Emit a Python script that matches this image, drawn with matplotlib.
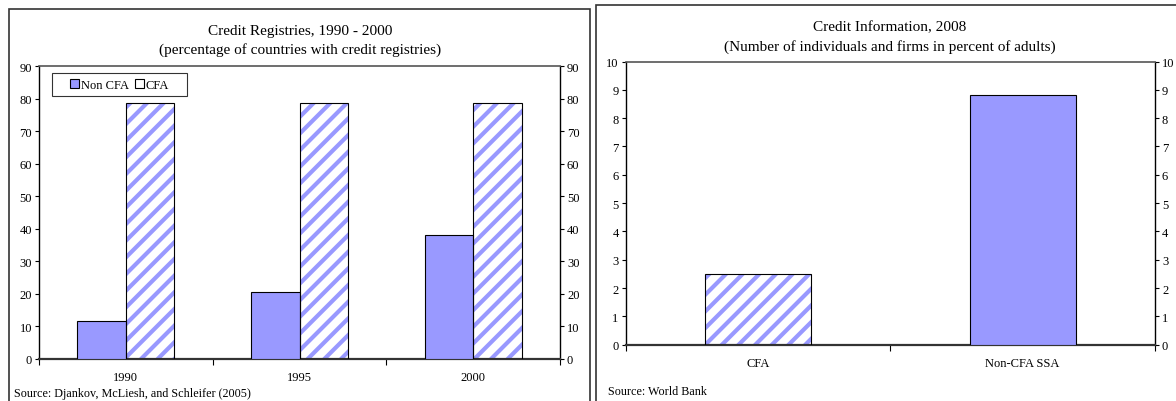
import numpy as np
import matplotlib
matplotlib.use("Agg")
import matplotlib.pyplot as plt
from matplotlib.patches import Rectangle, Patch

plt.rcParams['font.family'] = ['Liberation Serif', 'DejaVu Serif']
plt.rcParams['hatch.linewidth'] = 3.0

# left panel data
years = ['1990', '1995', '2000']
non_cfa = [11.8, 20.6, 38.2]
cfa = [78.6, 78.6, 78.6]

# right panel data
groups = ['CFA', 'Non-CFA SSA']
coverage = [2.5, 8.8]

BLUE = '#9999FF'
W, H = 1176, 402

fig = plt.figure(figsize=(W / 100, H / 100), dpi=100)


def fx(px):
    return px / W


def fy(py):
    return 1 - py / H


def hatched_bar(ax, x, h, width):
    ax.bar(x, h, width, color='white', edgecolor=BLUE, hatch='//', linewidth=0, zorder=2)
    ax.bar(x, h, width, fill=False, edgecolor='black', linewidth=0.8, zorder=3)


def style_axes(ax, ymax, ystep, ncat):
    ax.set_ylim(0, ymax)
    ax.set_xlim(-0.5, ncat - 0.5)
    ax.set_yticks(np.arange(0, ymax + 0.1, ystep))
    ax.tick_params(axis='y', which='both', direction='out', length=3, width=0.8,
                   labelsize=9, right=True, labelright=True, pad=2)
    ax.set_xticks(np.arange(ncat))
    ax.set_xticks(np.arange(ncat + 1) - 0.5, minor=True)
    ax.tick_params(axis='x', which='major', length=0, labelsize=9, pad=9)
    ax.tick_params(axis='x', which='minor', direction='out', length=4, width=0.8)
    for s in ['left', 'right']:
        ax.spines[s].set_linewidth(1.0)
    ax.spines['top'].set_color('#555555')
    ax.spines['top'].set_linewidth(1.2)
    ax.spines['bottom'].set_linewidth(1.6)
    ax.spines['bottom'].set_color('#333333')


# panel frames
fig.add_artist(Rectangle((fx(8.5), fy(420)), fx(590 - 8.5), fy(10) - fy(420),
                         transform=fig.transFigure, fill=False, edgecolor='#333333', lw=1.2))
fig.add_artist(Rectangle((fx(596), fy(420)), fx(600), fy(6) - fy(420),
                         transform=fig.transFigure, fill=False, edgecolor='#333333', lw=1.2))

# ---- left chart
ax1 = fig.add_axes([fx(39), fy(360), fx(560 - 39), fy(67) - fy(360)])
x = np.arange(len(years))
bw = 0.28
ax1.bar(x - bw / 2, non_cfa, bw, color=BLUE, edgecolor='black', linewidth=0.8, zorder=3)
for xi, v in zip(x, cfa):
    hatched_bar(ax1, xi + bw / 2, v, bw)
style_axes(ax1, 90, 10, len(years))
ax1.set_xticklabels(years)
handles = [Patch(facecolor=BLUE, edgecolor='black', lw=0.8),
           Patch(facecolor='white', edgecolor='black', lw=0.8)]
leg = ax1.legend(handles, ['Non CFA', 'CFA'], loc='upper left', bbox_to_anchor=(0.025, 0.976),
                 borderaxespad=0, ncol=2, fontsize=9, frameon=True, fancybox=False,
                 handlelength=0.7, handleheight=0.7, handletextpad=0.15, columnspacing=0.5,
                 borderpad=0.45)
leg.get_frame().set_edgecolor('black')
leg.get_frame().set_linewidth(0.8)
# pad legend to the wider Excel box
leg._legend_box.set_width(124)

fig.text(fx(300), fy(31), 'Credit Registries, 1990 - 2000', ha='center', va='center', fontsize=11)
fig.text(fx(300), fy(50), '(percentage of countries with credit registries)', ha='center',
         va='center', fontsize=11)
fig.text(fx(14), fy(394), 'Source: Djankov, McLiesh, and Schleifer (2005)', ha='left',
         va='center', fontsize=8.75)

# ---- right chart
ax2 = fig.add_axes([fx(625.5), fy(345.7), fx(1155 - 625.5), fy(62.5) - fy(345.7)])
xb = np.arange(len(groups))
hatched_bar(ax2, xb[0], coverage[0], 0.40)
ax2.bar(xb[1], coverage[1], 0.40, color=BLUE, edgecolor='black', linewidth=0.8, zorder=3)
style_axes(ax2, 10, 1, len(groups))
ax2.set_xticklabels(groups)
ax2.tick_params(axis='x', which='major', pad=9)

fig.text(fx(890), fy(28), 'Credit Information, 2008', ha='center', va='center', fontsize=11)
fig.text(fx(890), fy(47), '(Number of individuals and firms in percent of adults)', ha='center',
         va='center', fontsize=11)
fig.text(fx(608), fy(392), 'Source: World Bank', ha='left', va='center', fontsize=8.75)

fig.savefig('out.png', dpi=100)
